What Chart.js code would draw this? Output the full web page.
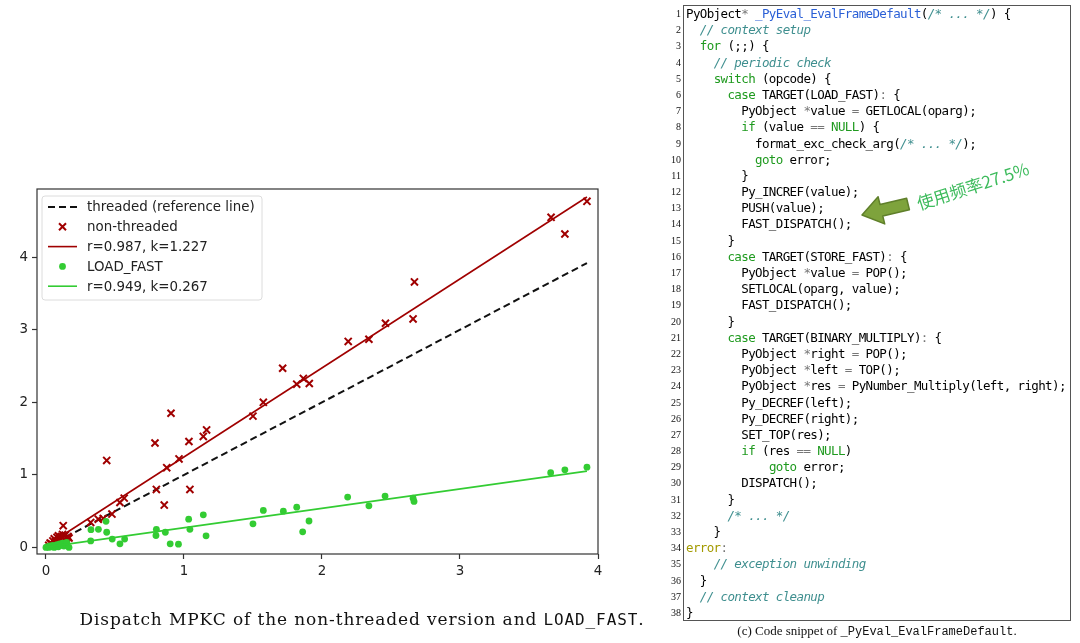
<!DOCTYPE html>
<html>
<head>
<meta charset="utf-8">
<script src="https://cdn.jsdelivr.net/npm/chart.js@4.4.1/dist/chart.umd.min.js"></script>
<style>
  body { margin: 0; background: #fff; width: 1080px; height: 643px; overflow: hidden; position: relative; }
  #plot { position: absolute; left: 0; top: 0; }
  .cap1 { position: absolute; left: 0; width: 724px; top: 609px; text-align: center; white-space: nowrap;
          font-family: "DejaVu Serif", serif; font-size: 17px; color: #111; }
  .cap1 .tt { font-family: "DejaVu Sans Mono", monospace; font-size: 16px; }
  #code { position: absolute; left: 683px; top: 5px; width: 386px; height: 614px;
          border: 1px solid #555; background: #fff; }
  .ln { position: relative; height: 16.19px; line-height: 16.19px; white-space: pre;
        font-family: "DejaVu Sans Mono", monospace; font-size: 12.5px; letter-spacing: -0.62px;
        color: #000; padding-left: 2px; }
  .ln .no { position: absolute; left: -22px; width: 19px; text-align: right;
            font-family: "Liberation Serif", serif; font-size: 10px; letter-spacing: 0; color: #111; }
  .k { color: #1f9a1f; }
  .f { color: #2a5fd6; }
  .c { color: #3f8f8f; font-style: italic; }
  .o { color: #777; }
  .l { color: #a39a00; }
  .cap2 { position: absolute; left: 683px; width: 388px; top: 623px; text-align: center;
          font-family: "Liberation Serif", serif; font-size: 13px; color: #111; }
  .cap2 .tt { font-family: "Liberation Mono", monospace; font-size: 12px; }
  #note { position: absolute; left: 921px; top: 190px; transform-origin: 0 100%; transform: rotate(-18deg);
          font-family: "Noto Sans CJK SC", sans-serif; font-size: 17px; color: #3dbb5c; white-space: nowrap; }
  #arrow { position: absolute; left: 0; top: 0; }
</style>
</head>
<body>
<canvas id="plot" width="640" height="643"></canvas>
<div class="cap1"><span id="cap1txt">Dispatch MPKC of the non-threaded version and <span class="tt">LOAD_FAST</span>.</span></div>

<div id="code"></div>
<div class="cap2">(c) Code snippet of <span class="tt">_PyEval_EvalFrameDefault</span>.</div>
<svg id="arrow" width="1080" height="643">
  <polygon points="862,215 884.7,223.9 882.8,216.1 909.4,209.8 906.6,198.2 880,204.5 878.1,196.7"
           fill="#7ea33c" stroke="#5f7f2a" stroke-width="1.5" stroke-linejoin="round"/>
</svg>
<div id="note">使用频率27.5%</div>

<script>
// threaded vs non-threaded dispatch MPKC (x = threaded)
const nonX = [0.02, 0.03, 0.04, 0.05, 0.06, 0.07, 0.08, 0.09, 0.10, 0.11, 0.12, 0.13, 0.14, 0.15, 0.16,
  0.125, 0.167, 0.324, 0.379, 0.415, 0.478, 0.536, 0.567, 0.44, 0.80, 0.857, 0.875, 0.79, 0.906, 0.964,
  1.036, 1.043, 1.14, 1.164, 1.50, 1.575, 1.715, 1.817, 1.865, 1.908, 2.19, 2.34, 2.46, 2.66, 2.67,
  3.66, 3.76, 3.92];
const nonY = [0.03, 0.06, 0.05, 0.09, 0.12, 0.08, 0.14, 0.16, 0.12, 0.15, 0.18, 0.11, 0.17, 0.13, 0.15,
  0.30, 0.13, 0.345, 0.39, 0.40, 0.46, 0.62, 0.68, 1.20, 0.80, 0.584, 1.10, 1.44, 1.85, 1.22,
  1.46, 0.80, 1.53, 1.62, 1.81, 2.0, 2.47, 2.25, 2.33, 2.26, 2.84, 2.87, 3.09, 3.15, 3.66,
  4.55, 4.32, 4.77];

const ldX = [0.0, 0.01, 0.02, 0.03, 0.04, 0.05, 0.06, 0.07, 0.08, 0.09, 0.10, 0.11, 0.12, 0.13, 0.14, 0.15,
  0.167, 0.324, 0.326, 0.38, 0.435, 0.44, 0.48, 0.536, 0.57, 0.797, 0.80, 0.865, 0.90, 0.96,
  1.034, 1.043, 1.14, 1.16, 1.50, 1.575, 1.72, 1.817, 1.86, 1.906, 2.186, 2.34, 2.457, 2.66, 2.667,
  3.657, 3.76, 3.92];
const ldY = [0.0, 0.01, 0.0, 0.02, 0.01, 0.03, 0.0, 0.02, 0.04, 0.01, 0.05, 0.03, 0.06, 0.02, 0.04, 0.07,
  0.0, 0.09, 0.245, 0.25, 0.36, 0.21, 0.116, 0.05, 0.116, 0.165, 0.25, 0.21, 0.05, 0.046,
  0.39, 0.25, 0.45, 0.16, 0.326, 0.51, 0.50, 0.555, 0.215, 0.365, 0.694, 0.574, 0.708, 0.68, 0.634,
  1.03, 1.07, 1.107];

// linear fits  y = k*x + b
const nonFit = { r: 0.987, k: 1.227, b: 0.02 };
const ldFit = { r: 0.949, k: 0.267, b: 0.005 };

const xTicks = [0, 1, 2, 3, 4];
const yTicks = [0, 1, 2, 3, 4];

const pts = (xs, ys) => xs.map((x, i) => ({ x: x, y: ys[i] }));
const xMin = Math.min(...nonX, ...ldX);
const xMax = Math.max(...nonX, ...ldX);
const fitLine = f => [{ x: xMin, y: f.k * xMin + f.b }, { x: xMax, y: f.k * xMax + f.b }];

const RED = '#a00000';
const GREEN = '#33cc33';

// spines + legend drawn like matplotlib's (box in upper left)
const mplLegend = {
  id: 'mplLegend',
  afterDraw(chart) {
    const ctx = chart.ctx;
    const a = chart.chartArea;
    ctx.save();
    ctx.strokeStyle = '#333';
    ctx.lineWidth = 1.2;
    ctx.strokeRect(a.left, a.top, a.right - a.left, a.bottom - a.top);

    const x0 = a.left + 5, y0 = a.top + 7, w = 220, h = 104;
    ctx.beginPath();
    ctx.roundRect(x0, y0, w, h, 3);
    ctx.fillStyle = 'rgba(255,255,255,0.85)';
    ctx.fill();
    ctx.strokeStyle = '#dcdcdc';
    ctx.lineWidth = 1;
    ctx.stroke();

    ctx.font = '13.4px "DejaVu Sans"';
    ctx.textBaseline = 'middle';
    chart.data.datasets.forEach((ds, i) => {
      const cy = y0 + 11 + i * 19.8;
      const hx0 = x0 + 6, hx1 = x0 + 35, hc = (hx0 + hx1) / 2;
      ctx.save();
      ctx.strokeStyle = ds.borderColor;
      ctx.fillStyle = ds.backgroundColor;
      ctx.lineWidth = ds.borderWidth;
      ctx.beginPath();
      if (ds.type === 'line') {
        ctx.setLineDash(ds.borderDash || []);
        ctx.moveTo(hx0, cy);
        ctx.lineTo(hx1, cy);
        ctx.stroke();
      } else if (ds.pointStyle === 'circle') {
        ctx.arc(hc, cy, ds.pointRadius, 0, Math.PI * 2);
        ctx.fill();
      } else {
        const r = ds.pointRadius * 0.7;
        ctx.moveTo(hc - r, cy - r); ctx.lineTo(hc + r, cy + r);
        ctx.moveTo(hc - r, cy + r); ctx.lineTo(hc + r, cy - r);
        ctx.stroke();
      }
      ctx.restore();
      ctx.fillStyle = '#222';
      ctx.fillText(ds.label, x0 + 45, cy + 1);
    });
    ctx.restore();
  }
};

new Chart(document.getElementById('plot'), {
  type: 'scatter',
  data: {
    datasets: [
      {
        type: 'line', label: 'threaded (reference line)',
        data: [{ x: xMin, y: xMin }, { x: xMax, y: xMax }],
        borderColor: '#111', borderWidth: 2, borderDash: [7, 4], pointRadius: 0, order: 5
      },
      {
        label: 'non-threaded', data: pts(nonX, nonY),
        pointStyle: 'crossRot', pointRadius: 5, borderWidth: 2,
        borderColor: RED, backgroundColor: RED, order: 4
      },
      {
        type: 'line', label: 'r=' + nonFit.r + ', k=' + nonFit.k,
        data: fitLine(nonFit), borderColor: RED, borderWidth: 1.6, pointRadius: 0, order: 3
      },
      {
        label: 'LOAD_FAST', data: pts(ldX, ldY),
        pointStyle: 'circle', pointRadius: 3.4, borderWidth: 0,
        borderColor: GREEN, backgroundColor: GREEN, order: 2
      },
      {
        type: 'line', label: 'r=' + ldFit.r + ', k=' + ldFit.k,
        data: fitLine(ldFit), borderColor: GREEN, borderWidth: 1.6, pointRadius: 0, order: 1
      }
    ]
  },
  options: {
    responsive: false,
    animation: false,
    layout: { autoPadding: false, padding: { top: 189, left: 0, right: 42, bottom: 59 } },
    plugins: { legend: { display: false }, tooltip: { enabled: false } },
    scales: {
      x: {
        type: 'linear', min: -0.065, max: 4.0,
        afterFit: s => { s.height = 30; },
        afterBuildTicks: s => { s.ticks = xTicks.map(v => ({ value: v })); },
        grid: { drawOnChartArea: false, drawTicks: true, tickLength: 5, tickColor: '#333', tickWidth: 1.2 },
        border: { display: false },
        ticks: { padding: 4, color: '#222', font: { family: 'DejaVu Sans', size: 13.4 }, maxRotation: 0 }
      },
      y: {
        type: 'linear', min: -0.09, max: 4.94,
        afterFit: s => { s.width = 37; },
        afterBuildTicks: s => { s.ticks = yTicks.map(v => ({ value: v })); },
        grid: { drawOnChartArea: false, drawTicks: true, tickLength: 5, tickColor: '#333', tickWidth: 1.2 },
        border: { display: false },
        ticks: { padding: 4, color: '#222', font: { family: 'DejaVu Sans', size: 13.4 } }
      }
    }
  },
  plugins: [mplLegend]
});

// stretch the figure caption to the width it has in the paper (x 80..645)
const cap = document.getElementById('cap1txt');
const capChars = cap.textContent.length;
const capW = cap.getBoundingClientRect().width;
cap.style.letterSpacing = ((565 - capW) / capChars) + 'px';

// code listing
const codeLines = [
  'PyObject<span class="o">*</span> <span class="f">_PyEval_EvalFrameDefault</span>(<span class="c">/* ... */</span>) {',
  '  <span class="c">// context setup</span>',
  '  <span class="k">for</span> (;;) {',
  '    <span class="c">// periodic check</span>',
  '    <span class="k">switch</span> (opcode) {',
  '      <span class="k">case</span> TARGET(LOAD_FAST)<span class="o">:</span> {',
  '        PyObject <span class="o">*</span>value <span class="o">=</span> GETLOCAL(oparg);',
  '        <span class="k">if</span> (value <span class="o">==</span> <span class="k">NULL</span>) {',
  '          format_exc_check_arg(<span class="c">/* ... */</span>);',
  '          <span class="k">goto</span> error;',
  '        }',
  '        Py_INCREF(value);',
  '        PUSH(value);',
  '        FAST_DISPATCH();',
  '      }',
  '      <span class="k">case</span> TARGET(STORE_FAST)<span class="o">:</span> {',
  '        PyObject <span class="o">*</span>value <span class="o">=</span> POP();',
  '        SETLOCAL(oparg, value);',
  '        FAST_DISPATCH();',
  '      }',
  '      <span class="k">case</span> TARGET(BINARY_MULTIPLY)<span class="o">:</span> {',
  '        PyObject <span class="o">*</span>right <span class="o">=</span> POP();',
  '        PyObject <span class="o">*</span>left <span class="o">=</span> TOP();',
  '        PyObject <span class="o">*</span>res <span class="o">=</span> PyNumber_Multiply(left, right);',
  '        Py_DECREF(left);',
  '        Py_DECREF(right);',
  '        SET_TOP(res);',
  '        <span class="k">if</span> (res <span class="o">==</span> <span class="k">NULL</span>)',
  '            <span class="k">goto</span> error;',
  '        DISPATCH();',
  '      }',
  '      <span class="c">/* ... */</span>',
  '    }',
  '<span class="l">error</span><span class="o">:</span>',
  '    <span class="c">// exception unwinding</span>',
  '  }',
  '  <span class="c">// context cleanup</span>',
  '}'
];
document.getElementById('code').innerHTML = codeLines
  .map((l, i) => '<div class="ln"><span class="no">' + (i + 1) + '</span>' + l + '</div>')
  .join('');
</script>
</body>
</html>
